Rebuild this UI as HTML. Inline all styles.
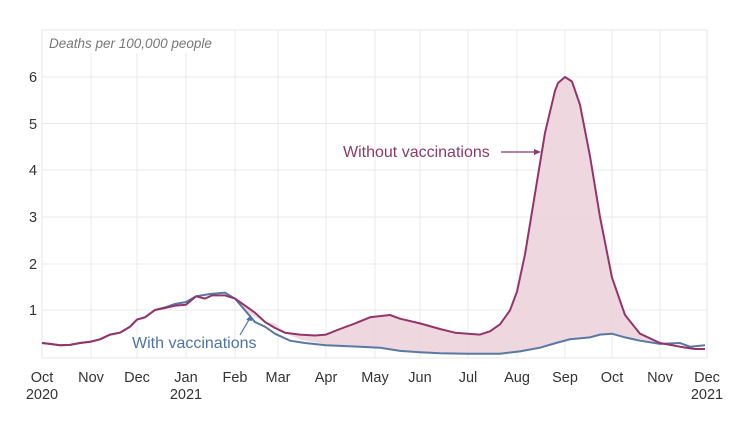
<!DOCTYPE html>
<html><head><meta charset="utf-8"><style>
body{margin:0;background:#fff;width:738px;height:420px;overflow:hidden}
text{font-family:"Liberation Sans",sans-serif}
</style></head><body>
<svg width="738" height="420" viewBox="0 0 738 420" xmlns="http://www.w3.org/2000/svg">
<rect x="42" y="30" width="665" height="328" fill="#fff" stroke="#e6e6e6"/>
<g stroke="#e8e8e8" stroke-width="1">
<line x1="42" x2="707" y1="77" y2="77"/><line x1="42" x2="707" y1="123.5" y2="123.5"/>
<line x1="42" x2="707" y1="170" y2="170"/><line x1="42" x2="707" y1="217" y2="217"/>
<line x1="42" x2="707" y1="264" y2="264"/><line x1="42" x2="707" y1="310" y2="310"/>
<line x1="91" x2="91" y1="53" y2="358"/><line x1="137" x2="137" y1="53" y2="358"/>
<line x1="186" x2="186" y1="53" y2="358"/><line x1="235" x2="235" y1="30" y2="358"/>
<line x1="278" x2="278" y1="30" y2="358"/><line x1="326" x2="326" y1="30" y2="358"/>
<line x1="375" x2="375" y1="30" y2="358"/><line x1="420" x2="420" y1="30" y2="358"/>
<line x1="468" x2="468" y1="30" y2="358"/><line x1="517" x2="517" y1="30" y2="358"/>
<line x1="565" x2="565" y1="30" y2="358"/><line x1="612" x2="612" y1="30" y2="358"/>
<line x1="660" x2="660" y1="30" y2="358"/>
</g>
<text x="49" y="48" font-size="13.5" font-style="italic" fill="#777">Deaths per 100,000 people</text>
<g font-size="14.5" fill="#333" text-anchor="middle">
<text x="33" y="82">6</text><text x="33" y="129">5</text><text x="33" y="175">4</text>
<text x="33" y="222">3</text><text x="33" y="269">2</text><text x="33" y="315">1</text>
<text x="42" y="382">Oct</text><text x="42" y="399">2020</text>
<text x="91" y="382">Nov</text><text x="137" y="382">Dec</text>
<text x="186" y="382">Jan</text><text x="186" y="399">2021</text>
<text x="235" y="382">Feb</text><text x="278" y="382">Mar</text><text x="326" y="382">Apr</text>
<text x="375" y="382">May</text><text x="420" y="382">Jun</text><text x="468" y="382">Jul</text>
<text x="517" y="382">Aug</text><text x="565" y="382">Sep</text><text x="612" y="382">Oct</text>
<text x="660" y="382">Nov</text><text x="707" y="382">Dec</text><text x="707" y="399">2021</text>
</g>
<path fill="#ecd3dc" opacity="0.9" d="M235,298.6 L245,310.3 L255,317.3 L265,322 L275,323.4 L285,332.7 L300,339.8 L315,342.2 L326,344.4 L340,345.7 L355,346.7 L370,346.9 L390,349.4 L420,352.3 L440,353.3 L468,353.7 L500,353.7 L520,351.4 L540,347.7 L556,343 L570,339.3 L590,337.4 L600,334.6 L612,333.7 L625,337.4 L640,340.7 L660,343.9 L660,343 L640,333.7 L625,315 L612,277.6 L600,217 L590,156.2 L580,104.8 L572,81.5 L565,77 L558,83 L555,90.8 L545,132.8 L535,193.6 L525,254.3 L517,291.6 L510,310.3 L500,324.3 L490,331.3 L480,334.6 L468,333.7 L455,332.7 L440,329 L420,323.4 L400,318.7 L390,315 L370,317.3 L355,323.4 L340,329 L326,334.6 L315,335.5 L300,334.6 L285,332.7 L275,328 L265,322 L255,312.7 L245,305.6 Z"/>
<polyline fill="none" stroke="#5878a6" stroke-width="2" points="42,343 50,343.9 60,345.3 70,344.9 80,343 91,341.6 100,339.3 110,334.6 120,332.7 130,326.7 137,319.6 145,317.3 155,310 165,307.4 175,304 186,302 196,296.3 210,294 225,292.6 235,298.6 245,310.3 255,322 265,326.7 275,333.7 290,340.7 305,343 326,345.3 360,346.7 380,347.7 400,350.9 420,352.3 440,353.3 468,353.7 500,353.7 520,351.4 540,347.7 556,343 570,339.3 590,337.4 600,334.6 612,333.7 625,337.4 640,340.7 660,343.9 680,343 690,346.7 705,345.3"/>
<polyline fill="none" stroke="#93346a" stroke-width="2" stroke-linejoin="round" points="42,343 50,343.9 60,345.3 70,344.9 80,343 91,341.6 100,339.3 110,334.6 120,332.7 130,326.7 137,319.6 145,317.3 155,310 165,308 175,305.6 186,304.7 196,296.3 205,298.6 212,295.4 225,295.4 235,298.6 245,305.6 255,312.7 265,322 275,328 285,332.7 300,334.6 315,335.5 326,334.6 340,329 355,323.4 370,317.3 390,315 400,318.7 420,323.4 440,329 455,332.7 468,333.7 480,334.6 490,331.3 500,324.3 510,310.3 517,291.6 525,254.3 535,193.6 545,132.8 555,90.8 558,83 565,77 572,81.5 580,104.8 590,156.2 600,217 612,277.6 625,315 640,333.7 660,343 680,346.7 695,349 705,349"/>
<text x="132" y="348" font-size="16" fill="#4f72a5">With vaccinations</text>
<line x1="240" y1="335" x2="250" y2="318" stroke="#4f72a5" stroke-width="1.2"/>
<path d="M251,315 L246,320 L252,321 Z" fill="#4f72a5"/>
<text x="343" y="157" font-size="16" fill="#8b3a6b">Without vaccinations</text>
<line x1="501" y1="152" x2="536" y2="152" stroke="#8b3a6b" stroke-width="1.2"/>
<path d="M541,152 L534,149 L534,155 Z" fill="#8b3a6b"/>
</svg>
</body></html>
